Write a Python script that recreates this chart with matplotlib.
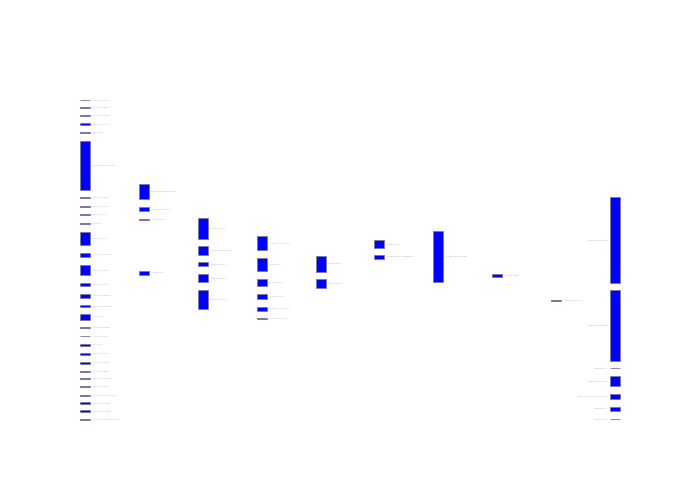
import matplotlib
matplotlib.use("Agg")
import matplotlib.pyplot as plt
from matplotlib.patches import Rectangle

# ---- data: node values per stage (column), node vertical centres (fraction of plot height, 0=top)
col1_values = [0.6, 0.6, 0.9, 1.6, 0.9, 48.5, 1.0, 0.6, 0.9, 1.3, 13.2, 4.6, 9.8, 2.9, 4.0,
               1.9, 5.5, 1.3, 0.6, 1.6, 1.6, 1.6, 1.3, 1.3, 1.3, 1.0, 1.6, 1.9, 0.9]
col1_y = [0.000, 0.024, 0.049, 0.075, 0.102, 0.205, 0.306, 0.332, 0.358, 0.385, 0.432, 0.484,
          0.532, 0.577, 0.611, 0.644, 0.678, 0.712, 0.738, 0.765, 0.793, 0.821, 0.848, 0.871,
          0.896, 0.922, 0.947, 0.973, 0.998]
col1_labels = ["Source A one", "Source B two", "Source C three", "Source D four", "Source E",
               "Main source F total", "Source G one", "Source H two", "Source I six", "Source J",
               "Source K ten", "Source L eleven", "Source M one", "Source N two", "Source O fifteen",
               "Source P sixteen", "Source Q", "Source R three", "Source S four", "Source T",
               "Source U one", "Source V three", "Source W two", "Source X twenty", "Source Y one",
               "Source Z twenty-six", "Source AA two", "Source AB three", "Source AC twenty-nine"]

col2_values = [14.8, 3.8, 0.6, 4.5]
col2_y = [0.287, 0.341, 0.373, 0.540]
col2_labels = ["Stage two group one", "Stage two grp B", "Stage two C", "Stage two"]

col3_values = [20.8, 8.8, 3.5, 7.2, 19.5]
col3_y = [0.401, 0.471, 0.513, 0.556, 0.623]
col3_labels = ["Stage three A", "Stage three B two", "Stage three C", "Stage three D", "Stage three E"]

col4_values = [13.8, 13.5, 6.8, 5.9, 3.9, 1.2]
col4_y = [0.448, 0.514, 0.571, 0.614, 0.652, 0.682]
col4_labels = ["Stage four A one", "Stage four", "Stage four C", "Stage four D",
               "Stage four E five", "Stage four F six"]

col5_values = [15.5, 9.2]
col5_y = [0.512, 0.574]
col5_labels = ["Stage five A", "Stage five B"]

col6_values = [7.8, 3.5]
col6_y = [0.451, 0.490]
col6_labels = ["Stage six A", "Stage six B combined"]

col7_values = [50.8]
col7_y = [0.490]
col7_labels = ["Stage seven total"]

col8_values = [2.9]
col8_y = [0.547]
col8_labels = ["Stage eight"]

col9_values = [1.5]
col9_y = [0.627]
col9_labels = ["Stage nine one"]

col10_values = [84.9, 70.2, 0.5, 9.5, 5.1, 4.5, 0.5]
col10_y = [0.438, 0.704, 0.838, 0.878, 0.927, 0.965, 0.997]
col10_labels = ["Outcome A total", "Outcome B total", "Outcome C", "Outcome D four",
                "Outcome E combined five", "Outcome F", "Outcome G"]

columns = [
    (col1_values, col1_y, col1_labels),
    (col2_values, col2_y, col2_labels),
    (col3_values, col3_y, col3_labels),
    (col4_values, col4_y, col4_labels),
    (col5_values, col5_y, col5_labels),
    (col6_values, col6_y, col6_labels),
    (col7_values, col7_y, col7_labels),
    (col8_values, col8_y, col8_labels),
    (col9_values, col9_y, col9_labels),
    (col10_values, col10_y, col10_labels),
]

W, H = 700, 500
fig = plt.figure(figsize=(W / 100, H / 100), dpi=100)
ax = fig.add_axes([80 / W, 80 / H, 540 / W, 320 / H])
ax.set_xlim(0, 1)
ax.set_ylim(1, 0)
ax.axis("off")

node_w = 10 / 540
pad = 7.3 / 320
ncol = len(columns)
# value scale: first column fills the plot height with padding between nodes
scale = (1 - pad * (len(col1_values) - 1)) / sum(col1_values)
gap = 2.5 / 540

for ci, (vals, ys, labs) in enumerate(columns):
    x0 = ci * (1 - node_w) / (ncol - 1)
    for v, yc, lab in zip(vals, ys, labs):
        h = v * scale
        ax.add_patch(Rectangle((x0, yc - h / 2), node_w, h, facecolor="#0000ff",
                               edgecolor="#7a7a9a", linewidth=0.6, clip_on=False))
        if ci == ncol - 1:
            ax.text(x0 - gap, yc, lab, ha="right", va="center", fontsize=1.7,
                    color="#a3acbf", clip_on=False)
        else:
            ax.text(x0 + node_w + gap, yc, lab, ha="left", va="center", fontsize=1.7,
                    color="#a3acbf", clip_on=False)

fig.savefig("out.png", dpi=100, facecolor="white")
